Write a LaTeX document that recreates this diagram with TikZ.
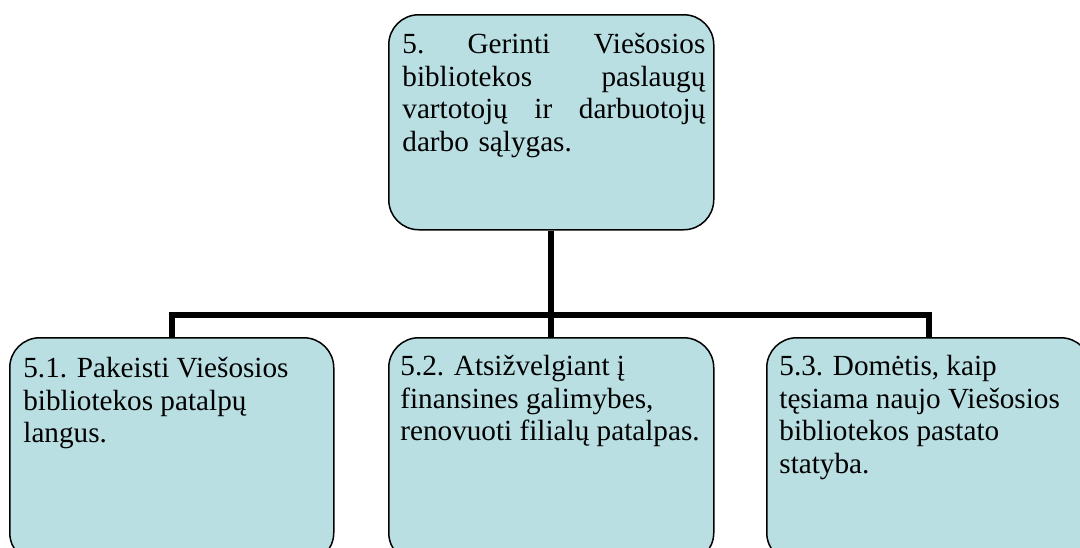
\documentclass[tikz,border=0pt]{standalone}
\usepackage{fontspec}
\setmainfont{Liberation Serif}
\definecolor{boxfill}{RGB}{185,223,227}
\begin{document}
\begin{tikzpicture}[x=0.5pt,y=-0.5pt,
  goalbox/.style={draw=black, line width=0.75pt, fill=boxfill, rounded corners=15pt,
    inner sep=0pt, anchor=north west, minimum width=162pt},
  goaltext/.style={anchor=north west, inner sep=0pt, font=\fontsize{14.6}{16.4}\selectfont, align=left},
  link/.style={line width=3pt}]
\useasboundingbox (0,0) rectangle (1080,547);
\clip (0,0) rectangle (1080,547);
% boxes
\node[goalbox, minimum width=162.5pt, minimum height=107.5pt] (top) at (388,14) {};
\node[goalbox, minimum height=112.5pt] (b1) at (9,337) {};
\node[goalbox, minimum width=162.5pt, minimum height=112.5pt] (b2) at (388,337) {};
\node[goalbox, minimum height=112.5pt] (b3) at (766,337) {};
% connectors
\coordinate (hub) at (550,315);
\draw[link] (top.south) -- (b2.north);
\draw[link] (b1.north) -- (b1.north |- hub) -- (b3.north |- hub) -- (b3.north);
% texts
\node[goaltext, text width=151.5pt] (t0) at (402,30)
  {\strut 5.\hfill Gerinti\hfill Viešosios\\
   bibliotekos\hfill paslaugų\\
   vartotojų\hfill ir\hfill darbuotojų\\
   darbo sąlygas.};
\node[goaltext] (t1) at (23,354)
  {\strut 5.1. Pakeisti Viešosios\\bibliotekos patalpų\\langus.};
\node[goaltext] (t2) at (400,352)
  {\strut 5.2. Atsižvelgiant į\\finansines galimybes,\\renovuoti filialų patalpas.};
\node[goaltext] (t3) at (779,352)
  {\strut 5.3. Domėtis, kaip\\tęsiama naujo Viešosios\\bibliotekos pastato\\statyba.};
\end{tikzpicture}
\end{document}
